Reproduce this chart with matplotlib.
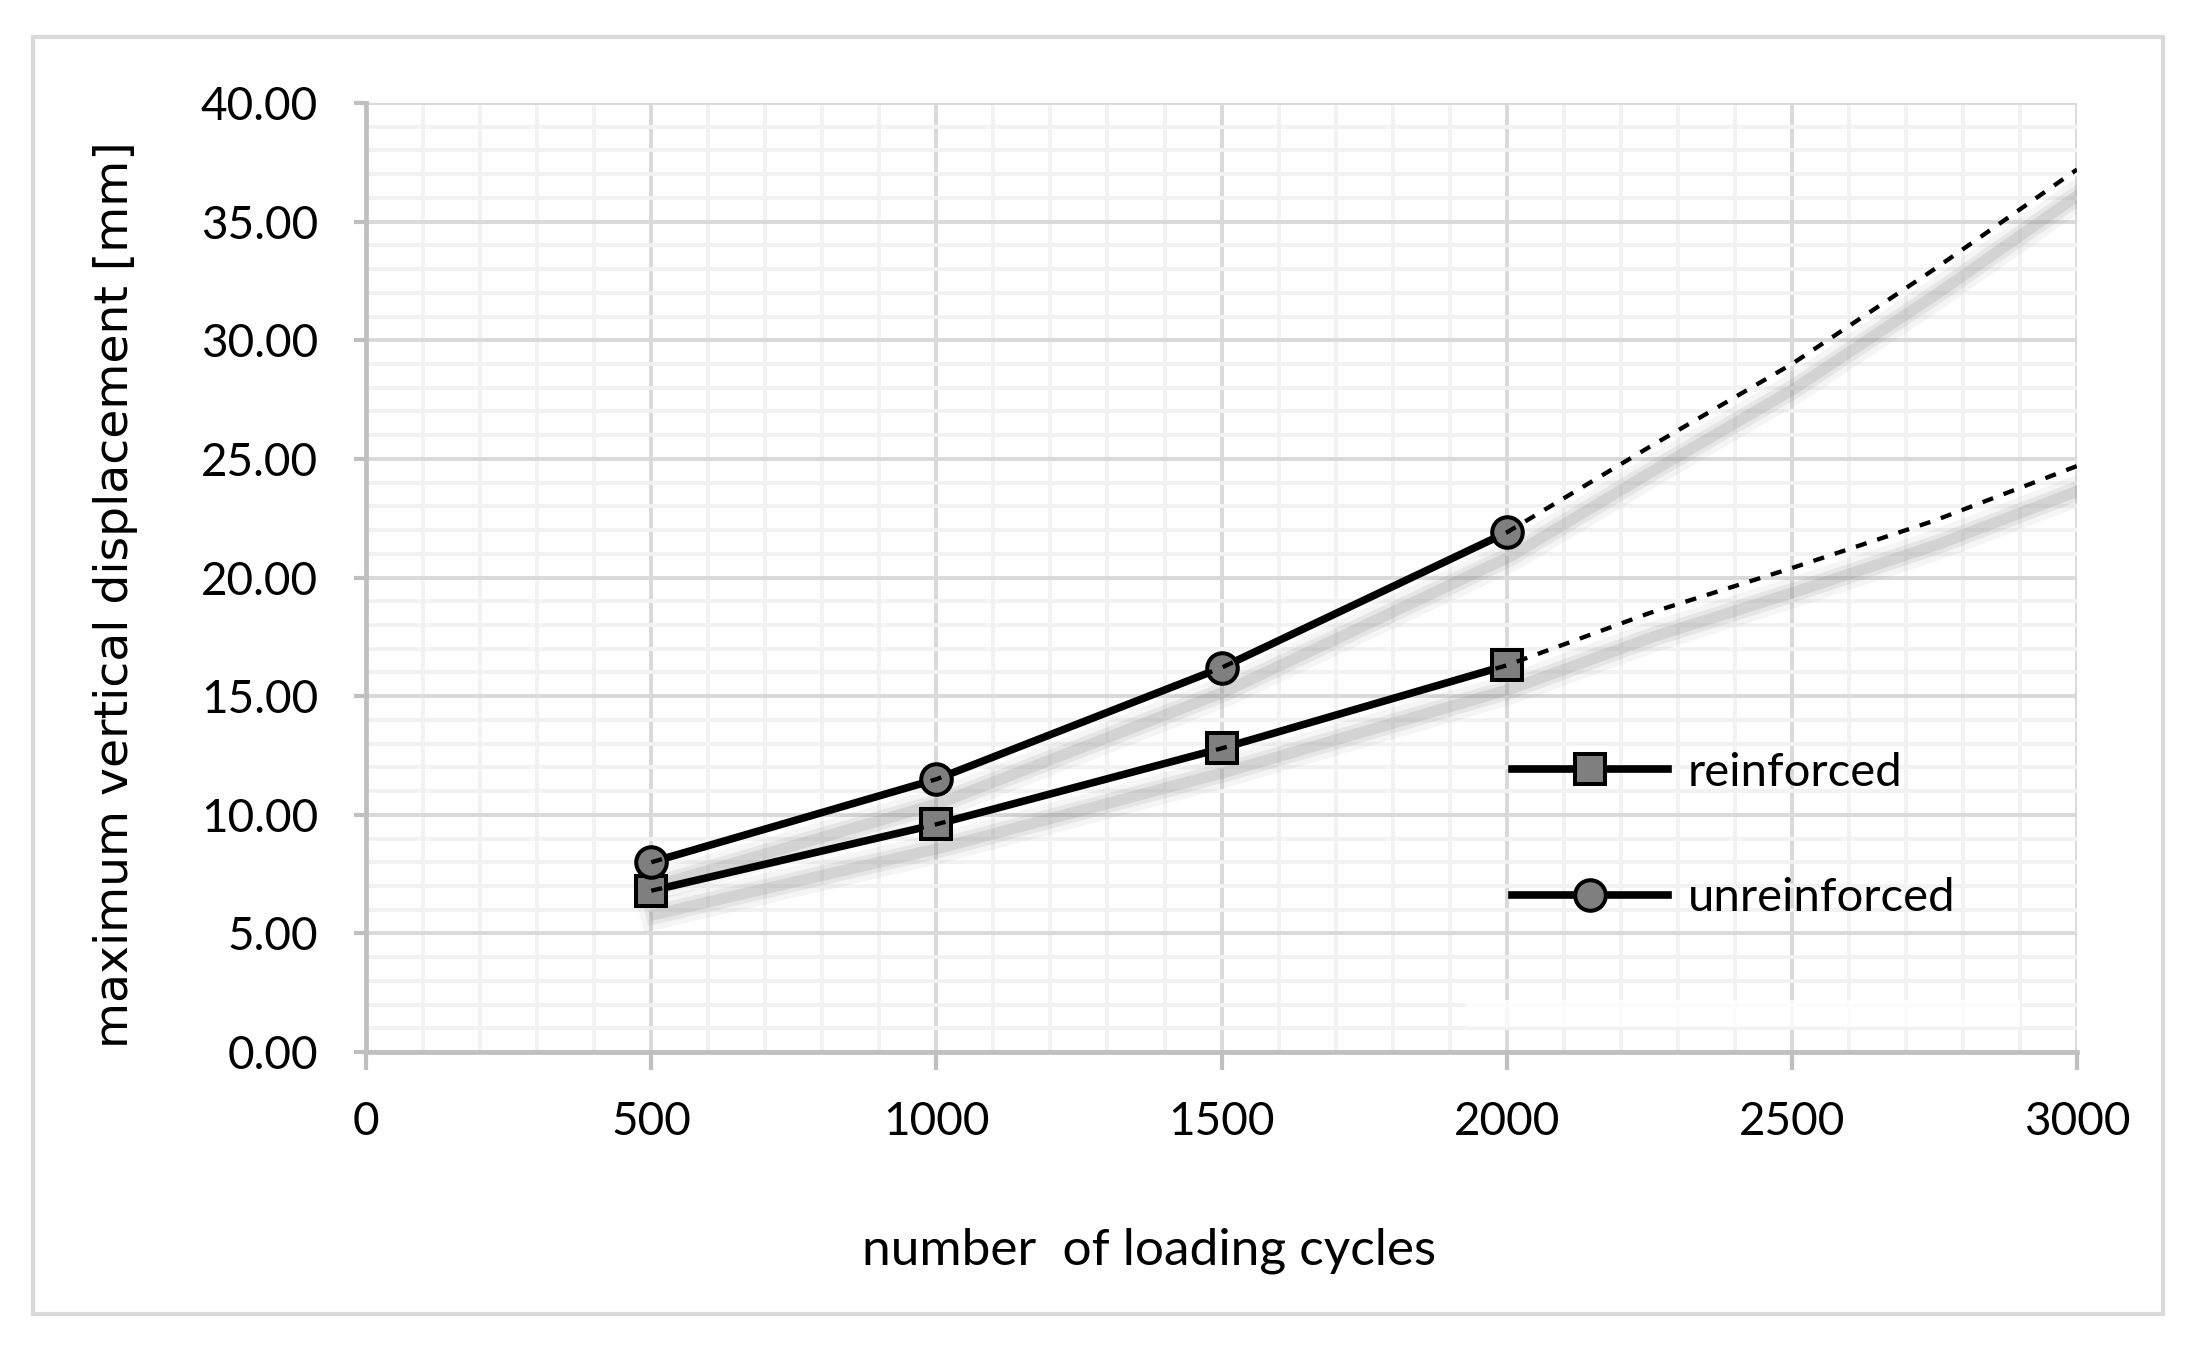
import numpy as np
import matplotlib.pyplot as plt
import matplotlib.patheffects as pe
from matplotlib.patches import Rectangle

# values
cycles = [500, 1000, 1500, 2000]
reinforced = [6.8, 9.6, 12.8, 16.3]
unreinforced = [8.0, 11.5, 16.2, 21.9]

# dashed trend lines (extend to 3000 cycles)
trend_cycles = [500, 1000, 1500, 2000, 2250, 2500, 2750, 3000]
trend_reinf = [6.8, 9.6, 12.8, 16.3, 18.5, 20.4, 22.4, 24.7]
trend_unreinf = [8.0, 11.5, 16.2, 21.9, 25.5, 29.0, 33.0, 37.2]

x_ticks = [0, 500, 1000, 1500, 2000, 2500, 3000]
y_ticks = [0, 5, 10, 15, 20, 25, 30, 35, 40]

plt.rcParams['font.family'] = ['Lato', 'DejaVu Sans']

fig = plt.figure(figsize=(22, 13.54), dpi=100)
ax = fig.add_axes([0.1664, 0.2230, 0.7777, 0.7009])

# outer chart frame
fig.patches.append(Rectangle((0.015, 0.0295), 0.9682, 0.9431, transform=fig.transFigure,
                             fill=False, edgecolor='#d9d9d9', linewidth=3))

# soft shadow under the trend lines
shadow = [pe.SimpleLineShadow(offset=(3, -17), shadow_color='#808080', alpha=a, linewidth=w)
          for a, w in [(0.08, 22), (0.12, 14), (0.18, 8)]]
for ty in (trend_reinf, trend_unreinf):
    ax.plot(trend_cycles, ty, color='black', lw=3, zorder=3, path_effects=shadow)
    ax.plot(trend_cycles, ty, color='black', lw=3.1, dashes=(2.6, 2.6), zorder=5)

# faint white band near the bottom right
ax.add_patch(Rectangle((1930, 1.05), 970, 1.15, facecolor='white', edgecolor='none',
                       alpha=0.8, zorder=2))

ax.plot(cycles, reinforced, color='black', lw=5.5, marker='s', ms=22, mfc='#7f7f7f',
        mec='black', mew=2.9, zorder=4, label='reinforced')
ax.plot(cycles, unreinforced, color='black', lw=5.5, marker='o', ms=22, mfc='#7f7f7f',
        mec='black', mew=2.9, zorder=4, label='unreinforced')

ax.set_xlim(0, 3000)
ax.set_ylim(0, 40)
ax.set_xticks(x_ticks)
ax.set_xticks(np.arange(0, 3001, 100), minor=True)
ax.set_yticks(y_ticks)
ax.set_yticks(np.arange(0, 41, 1), minor=True)
ax.set_yticklabels([f'{v:.2f}' for v in y_ticks])
ax.set_xticklabels([str(v) for v in x_ticks])

ax.grid(which='minor', color='#f2f2f2', lw=2.8)
ax.grid(which='major', color='#d9d9d9', lw=2.8)
ax.set_axisbelow(True)

for s in ['top', 'right']:
    ax.spines[s].set_visible(False)
for s in ['left', 'bottom']:
    ax.spines[s].set_color('#bfbfbf')
    ax.spines[s].set_linewidth(3.4)

ax.tick_params(which='major', width=3, color='#bfbfbf', labelsize=33)
ax.tick_params(axis='x', which='major', length=13, pad=22)
ax.tick_params(axis='y', which='major', length=8.6, pad=26)
ax.tick_params(which='minor', length=0)

fig.text(0.0527, 0.5605, 'maximum vertical displacement [mm]', rotation=90,
         ha='center', va='center', fontsize=34, family=['DejaVu Sans'])
fig.text(0.5223, 0.0765, 'number  of loading cycles', ha='center', va='center', fontsize=37)

ax.legend(loc='center left', bbox_to_anchor=(0.670, 0.228), frameon=False, fontsize=34,
          handlelength=3.3, handletextpad=0.42, labelspacing=1.77, borderpad=0,
          borderaxespad=0)

fig.savefig('out.png', dpi=100)
